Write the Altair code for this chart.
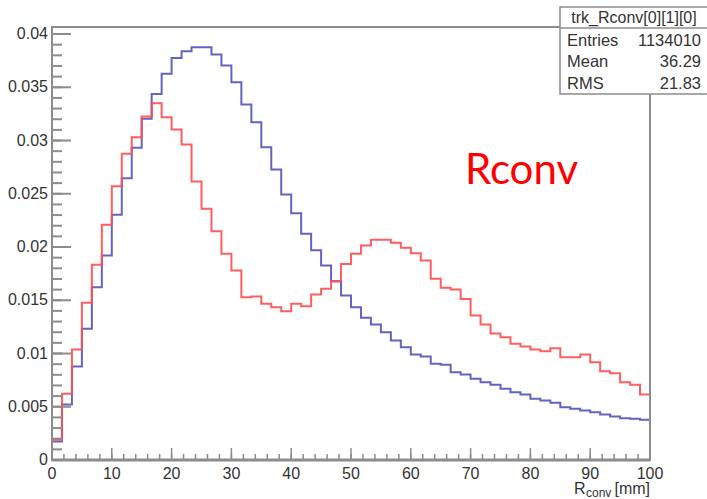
import altair as alt
import pandas as pd
import numpy as np

# ---- histogram contents (60 bins from 0 to 100 mm) ----
blue_vals = [
    0.00174, 0.00520, 0.00878, 0.01232, 0.01623, 0.01920, 0.02302, 0.02646, 0.02931, 0.03204,
    0.03438, 0.03626, 0.03776, 0.03839, 0.03876, 0.03876, 0.03808, 0.03704, 0.03548, 0.03338,
    0.03172, 0.02937, 0.02728, 0.02493, 0.02318, 0.02124, 0.01970, 0.01826, 0.01679, 0.01545,
    0.01435, 0.01335, 0.01272, 0.01200, 0.01122, 0.01059, 0.00991, 0.00972, 0.00903, 0.00894,
    0.00824, 0.00803, 0.00762, 0.00730, 0.00707, 0.00668, 0.00637, 0.00615, 0.00575, 0.00559,
    0.00537, 0.00496, 0.00481, 0.00465, 0.00449, 0.00427, 0.00408, 0.00392, 0.00387, 0.00377,
]
red_vals = [
    0.00190, 0.00621, 0.01037, 0.01476, 0.01833, 0.02208, 0.02571, 0.02875, 0.03031, 0.03225,
    0.03350, 0.03219, 0.03103, 0.02962, 0.02615, 0.02359, 0.02148, 0.01936, 0.01779, 0.01529,
    0.01535, 0.01467, 0.01435, 0.01397, 0.01467, 0.01444, 0.01554, 0.01607, 0.01679, 0.01840,
    0.01936, 0.02014, 0.02068, 0.02068, 0.02040, 0.01992, 0.01942, 0.01873, 0.01701, 0.01617,
    0.01601, 0.01513, 0.01357, 0.01272, 0.01188, 0.01153, 0.01091, 0.01066, 0.01038, 0.01022,
    0.01050, 0.00965, 0.00965, 0.00991, 0.00918, 0.00834, 0.00815, 0.00730, 0.00706, 0.00615,
]
x_min, x_max, n_bins = 0.0, 100.0, 60

x_major = [0, 10, 20, 30, 40, 50, 60, 70, 80, 90, 100]
x_labels = ["0", "10", "20", "30", "40", "50", "60", "70", "80", "90", "100"]
x_minor = np.arange(0, 100.01, 2).round(6).tolist()
y_major = [0, 0.005, 0.01, 0.015, 0.02, 0.025, 0.03, 0.035, 0.04]
y_labels = ["0", "0.005", "0.01", "0.015", "0.02", "0.025", "0.03", "0.035", "0.04"]
y_minor = np.arange(0, 0.04001, 0.001).round(6).tolist()

stat_title = "trk_Rconv[0][1][0]"
stat_names = ["Entries", "Mean", "RMS"]
stat_values = ["1134010", "36.29", "21.83"]

# ---- build table ----
bw = (x_max - x_min) / n_bins
rows = []
for name, vals in [("blue", blue_vals), ("red", red_vals)]:
    for i, v in enumerate(vals):
        rows.append({"series": name, "x": x_min + i * bw, "y": v})
    rows.append({"series": name, "x": x_max, "y": vals[-1]})
df = pd.DataFrame(rows)

W, H = 598, 433
grey = "#8c8c8c"
FONT = "Liberation Sans"
TXT = "#333333"

xs = alt.Scale(domain=[0, 100], nice=False, zero=False)
ys = alt.Scale(domain=[0, 0.04066], nice=False)

lines = alt.Chart(df).mark_line(interpolate="step-after", strokeWidth=2, opacity=0.9).encode(
    x=alt.X("x:Q", scale=xs, axis=None),
    y=alt.Y("y:Q", scale=ys, axis=None),
    color=alt.Color("series:N", scale=alt.Scale(domain=["blue", "red"], range=["#5252ba", "#ff4d4d"]),
                    legend=None),
)

ymaj = alt.Chart(pd.DataFrame({"v": y_major})).mark_rule(color=grey, strokeWidth=2).encode(
    y=alt.Y("v:Q", scale=ys, axis=None), x=alt.value(0), x2=alt.value(19))
ymin = alt.Chart(pd.DataFrame({"v": y_minor})).mark_rule(color=grey, strokeWidth=2).encode(
    y=alt.Y("v:Q", scale=ys, axis=None), x=alt.value(0), x2=alt.value(10))
ylab = alt.Chart(pd.DataFrame({"v": y_major, "t": y_labels})).mark_text(
    font=FONT, fontSize=16, color=TXT, align="right", baseline="middle").encode(
    y=alt.Y("v:Q", scale=ys, axis=None), x=alt.value(-4), text="t:N")
xmaj = alt.Chart(pd.DataFrame({"v": x_major})).mark_rule(color=grey, strokeWidth=1.5).encode(
    x=alt.X("v:Q", scale=xs, axis=None), y=alt.value(H), y2=alt.value(H - 12))
xmin = alt.Chart(pd.DataFrame({"v": x_minor})).mark_rule(color=grey, strokeWidth=1.5).encode(
    x=alt.X("v:Q", scale=xs, axis=None), y=alt.value(H), y2=alt.value(H - 6))
xlab = alt.Chart(pd.DataFrame({"v": x_major, "t": x_labels})).mark_text(
    font=FONT, fontSize=16, color=TXT, align="center", baseline="top").encode(
    x=alt.X("v:Q", scale=xs, axis=None), y=alt.value(H + 6), text="t:N")

one = pd.DataFrame({"k": [0]})
frame = alt.Chart(one).mark_rect(fill="transparent", stroke=grey, strokeWidth=2).encode(
    x=alt.value(0), x2=alt.value(W), y=alt.value(0), y2=alt.value(H))
bottom = alt.Chart(one).mark_rule(color=grey, strokeWidth=3).encode(
    x=alt.value(0), x2=alt.value(W), y=alt.value(H))

statbox = alt.Chart(one).mark_rect(fill="white", stroke=grey, strokeWidth=1.5).encode(
    x=alt.value(508), x2=alt.value(665), y=alt.value(-20), y2=alt.value(67))
statsep = alt.Chart(one).mark_rule(color=grey, strokeWidth=1.5).encode(
    x=alt.value(508), x2=alt.value(665), y=alt.value(1))
stitle = alt.Chart(pd.DataFrame({"t": [stat_title]})).mark_text(
    font=FONT, fontSize=16, color=TXT, align="center", baseline="middle").encode(
    text="t:N", x=alt.value(582), y=alt.value(-9))

stat_layers = []
for nm, vl, yy in zip(stat_names, stat_values, [14, 35, 57]):
    d = pd.DataFrame({"name": [nm], "val": [vl]})
    stat_layers.append(alt.Chart(d).mark_text(font=FONT, fontSize=16.5, color=TXT, align="left",
                                              baseline="middle").encode(
        text="name:N", x=alt.value(515), y=alt.value(yy)))
    stat_layers.append(alt.Chart(d).mark_text(font=FONT, fontSize=16.5, color=TXT, align="right",
                                              baseline="middle").encode(
        text="val:N", x=alt.value(649), y=alt.value(yy)))

rconv = alt.Chart(pd.DataFrame({"t": ["Rconv"]})).mark_text(
    font="Lato", fontSize=42, color="#ff0000", align="left", baseline="alphabetic").encode(
    text="t:N", x=alt.value(413), y=alt.value(157))

xt_R = alt.Chart(pd.DataFrame({"t": ["R"]})).mark_text(
    font=FONT, fontSize=16, color=TXT, align="left", baseline="alphabetic").encode(
    text="t:N", x=alt.value(522), y=alt.value(467))
xt_sub = alt.Chart(pd.DataFrame({"t": ["conv"]})).mark_text(
    font=FONT, fontSize=12, color=TXT, align="left", baseline="alphabetic").encode(
    text="t:N", x=alt.value(534), y=alt.value(470))
xt_mm = alt.Chart(pd.DataFrame({"t": ["[mm]"]})).mark_text(
    font=FONT, fontSize=16, color=TXT, align="right", baseline="alphabetic").encode(
    text="t:N", x=alt.value(598), y=alt.value(467))

chart = alt.layer(
    lines, ymin, ymaj, ylab, xmin, xmaj, xlab, frame, bottom, statbox, statsep, stitle, *stat_layers,
    rconv, xt_R, xt_sub, xt_mm
).properties(
    width=W, height=H,
    padding={"left": 52, "top": 27, "right": 57, "bottom": 39},
    autosize=alt.AutoSizeParams(type="none"),
    background="white",
).configure_view(strokeWidth=0)

chart.save("out.html", embed_options={"renderer": "svg", "actions": False})
